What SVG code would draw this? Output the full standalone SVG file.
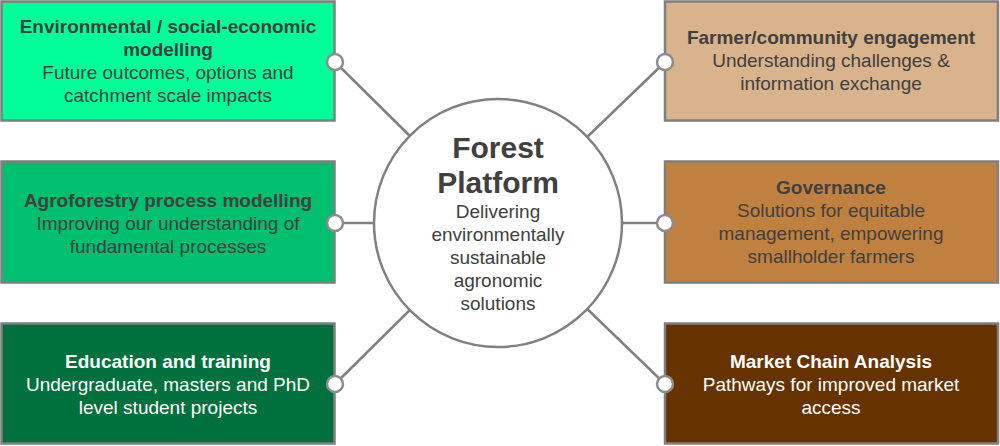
<svg xmlns="http://www.w3.org/2000/svg" width="1000" height="446" viewBox="0 0 1000 446">
<style>
.box{stroke:#7f7f7f;stroke-width:2.5}
.t{font-family:"Liberation Sans",Arial,sans-serif;font-size:19px;text-anchor:middle;fill:#404040}
.b{font-weight:bold}
.w{fill:#ffffff}
.con{stroke:#808080;stroke-width:2.5;fill:none}
.dot{fill:#ffffff;stroke:#8c8c8c;stroke-width:2.5}
</style>
<rect width="1000" height="446" fill="#ffffff"/>
<g id="connectors">
<line class="con" x1="335" y1="62" x2="498" y2="223"/>
<line class="con" x1="335" y1="223" x2="498" y2="223"/>
<line class="con" x1="335" y1="384" x2="498" y2="223"/>
<line class="con" x1="665" y1="62" x2="498" y2="223"/>
<line class="con" x1="665" y1="223" x2="498" y2="223"/>
<line class="con" x1="665" y1="384" x2="498" y2="223"/>
</g>
<g id="center">
<circle cx="498" cy="223" r="124" fill="#ffffff" stroke="#808080" stroke-width="2.5"/>
<text class="t b" x="498" y="158" style="font-size:30px">Forest</text>
<text class="t b" x="498" y="193" style="font-size:30px">Platform</text>
<text class="t" x="498" y="218">Delivering</text>
<text class="t" x="498" y="241">environmentally</text>
<text class="t" x="498" y="264">sustainable</text>
<text class="t" x="498" y="287">agronomic</text>
<text class="t" x="498" y="310">solutions</text>
</g>
<g id="env">
<rect class="box" x="1.5" y="1.5" width="333" height="119" fill="#00ff99"/>
<text class="t b" x="168" y="33">Environmental / social-economic</text>
<text class="t b" x="168" y="56">modelling</text>
<text class="t" x="168" y="79">Future outcomes, options and</text>
<text class="t" x="168" y="102">catchment scale impacts</text>
<circle class="dot" cx="335" cy="62" r="8"/>
</g>
<g id="agro">
<rect class="box" x="1.5" y="161.5" width="333" height="121" fill="#00bf6f"/>
<text class="t b" x="168" y="207">Agroforestry process modelling</text>
<text class="t" x="168" y="230">Improving our understanding of</text>
<text class="t" x="168" y="253">fundamental processes</text>
<circle class="dot" cx="335" cy="223" r="8"/>
</g>
<g id="edu">
<rect class="box" x="1.5" y="323.5" width="333" height="120" fill="#00703c"/>
<text class="t b w" x="168" y="368">Education and training</text>
<text class="t w" x="168" y="391">Undergraduate, masters and PhD</text>
<text class="t w" x="168" y="414">level student projects</text>
<circle class="dot" cx="335" cy="384" r="8"/>
</g>
<g id="farmer">
<rect class="box" x="665" y="1.5" width="333" height="119" fill="#d9b38c"/>
<text class="t b" x="831" y="44">Farmer/community engagement</text>
<text class="t" x="831" y="67">Understanding challenges &amp;</text>
<text class="t" x="831" y="90">information exchange</text>
<circle class="dot" cx="665" cy="62" r="8"/>
</g>
<g id="gov">
<rect class="box" x="665" y="161.5" width="333" height="121" fill="#bf8040"/>
<text class="t b" x="831" y="194">Governance</text>
<text class="t" x="831" y="217">Solutions for equitable</text>
<text class="t" x="831" y="240">management, empowering</text>
<text class="t" x="831" y="263">smallholder farmers</text>
<circle class="dot" cx="665" cy="223" r="8"/>
</g>
<g id="market">
<rect class="box" x="665" y="323.5" width="333" height="120" fill="#663300"/>
<text class="t b w" x="831" y="368">Market Chain Analysis</text>
<text class="t w" x="831" y="391">Pathways for improved market</text>
<text class="t w" x="831" y="414">access</text>
<circle class="dot" cx="665" cy="384" r="8"/>
</g>
</svg>
